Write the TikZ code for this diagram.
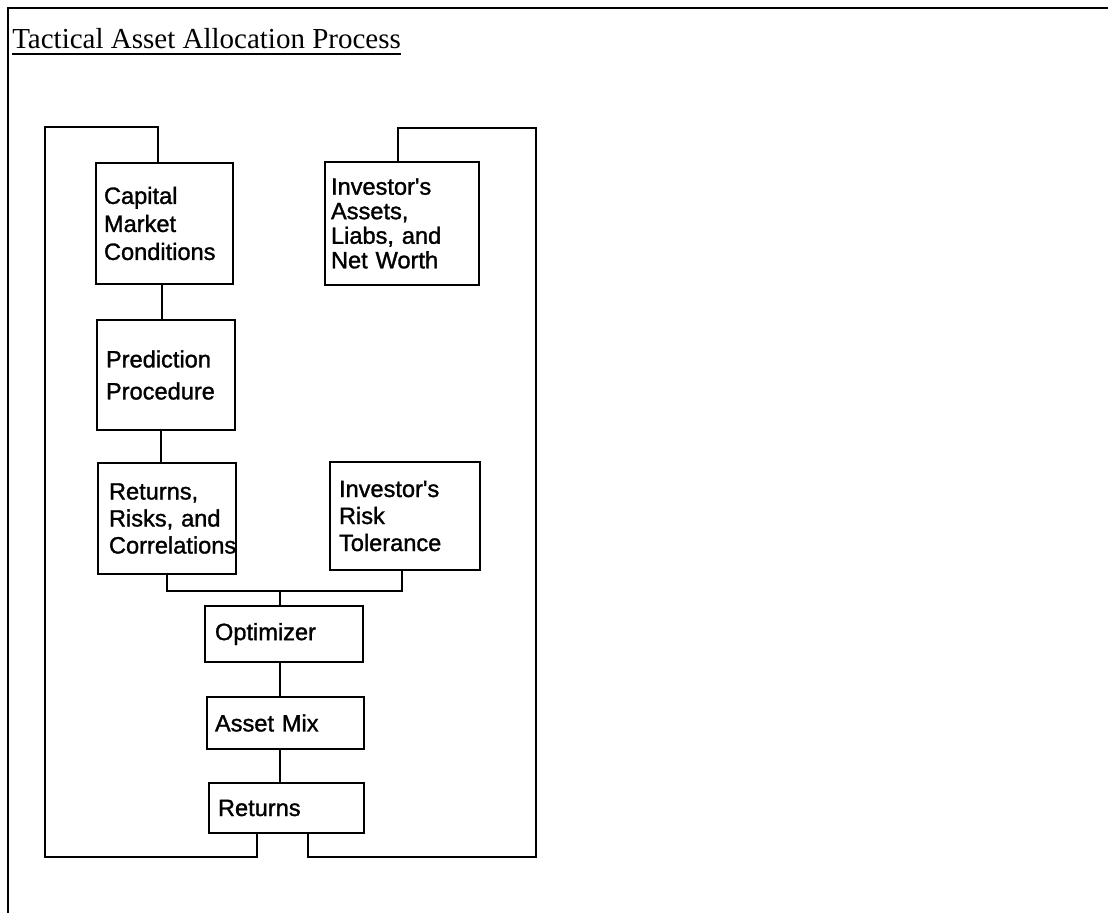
\documentclass[tikz,border=0pt]{standalone}
\usepackage{fontspec}
\setmainfont{Liberation Serif}
\newfontfamily\boxfont[FakeBold=1.3]{Liberation Sans}
\begin{document}
\begin{tikzpicture}[x=0.75pt,y=-0.75pt,
  box/.style={draw, line width=2.2pt, align=left, inner ysep=0pt, font=\boxfont\fontsize{17.7}{21}\selectfont},
  link/.style={line width=2pt},
  frame/.style={line width=2pt}]
\useasboundingbox (0,0) rectangle (1108,913);
% frame
\coordinate (f0) at (8,913);
\coordinate (f1) at (8,8);
\coordinate (f2) at (1108,8);
\draw[frame] (f0) -- (f1) -- (f2);
% title
\node[anchor=base west, inner sep=0pt, font=\fontsize{21.75}{26}\selectfont] (title) at (12,49) {Tactical Asset Allocation Process};
\draw[line width=1.4pt] ([yshift=-3.5pt]title.base west) -- ([yshift=-3.5pt]title.base east);
% boxes
\node[box, inner xsep=6pt, text width=90.75pt, minimum height=90.75pt] (cap) at (164.5,223.5) {Capital\\Market\\Conditions};
\node[box, inner xsep=4.5pt, text width=106.5pt, minimum height=92.25pt, font=\boxfont\fontsize{17.7}{18.4}\selectfont] (inv) at (402,223.5) {Investor's\\Assets,\\Liabs, and\\Net Worth};
\node[box, inner xsep=6.75pt, text width=90pt, minimum height=82.5pt, font=\boxfont\fontsize{17.7}{24}\selectfont] (pred) at (166,375) {Prediction\\Procedure};
\node[box, inner xsep=8.25pt, text width=87pt, minimum height=83.25pt, font=\boxfont\fontsize{17.7}{20.25}\selectfont] (rrc) at (167,518.5) {Returns,\\Risks, and\\Correlations};
\node[box, inner xsep=6.75pt, text width=99pt, minimum height=81pt, font=\boxfont\fontsize{17.7}{20.25}\selectfont] (risk) at (405,516) {Investor's\\Risk\\Tolerance};
\node[box, inner xsep=7.5pt, text width=103.5pt, minimum height=42pt] (opt) at (284,634) {Optimizer};
\node[box, inner xsep=6pt, text width=105.75pt, minimum height=39pt] (mix) at (285.5,723) {Asset Mix};
\node[box, inner xsep=6.75pt, text width=102.75pt, minimum height=37.5pt] (ret) at (286.5,808) {Returns};
% connectors
\coordinate (cx) at (162,0);
\draw[link] (cap.south -| cx) -- (pred.north -| cx);
\coordinate (px) at (161,0);
\draw[link] (pred.south -| px) -- (rrc.north -| px);
\coordinate (j) at (280,591);
\coordinate (ja) at (167,591);
\coordinate (jb) at (402,591);
\draw[link] (rrc.south -| ja) -- (ja) -- (jb) -- (risk.south -| jb);
\draw[link] (j) -- (opt.north -| j);
\draw[link] (opt.south -| j) -- (mix.north -| j);
\draw[link] (mix.south -| j) -- (ret.north -| j);
% feedback loop left
\coordinate (la) at (257,857);
\coordinate (lb) at (45,857);
\coordinate (lc) at (45,127);
\coordinate (ld) at (158,127);
\draw[link] (ret.south -| la) -- (la) -- (lb) -- (lc) -- (ld) -- (cap.north -| ld);
% feedback loop right
\coordinate (ra) at (308,857);
\coordinate (rb) at (536,857);
\coordinate (rc) at (536,128);
\coordinate (rd) at (398,128);
\draw[link] (ret.south -| ra) -- (ra) -- (rb) -- (rc) -- (rd) -- (inv.north -| rd);
\end{tikzpicture}
\end{document}
